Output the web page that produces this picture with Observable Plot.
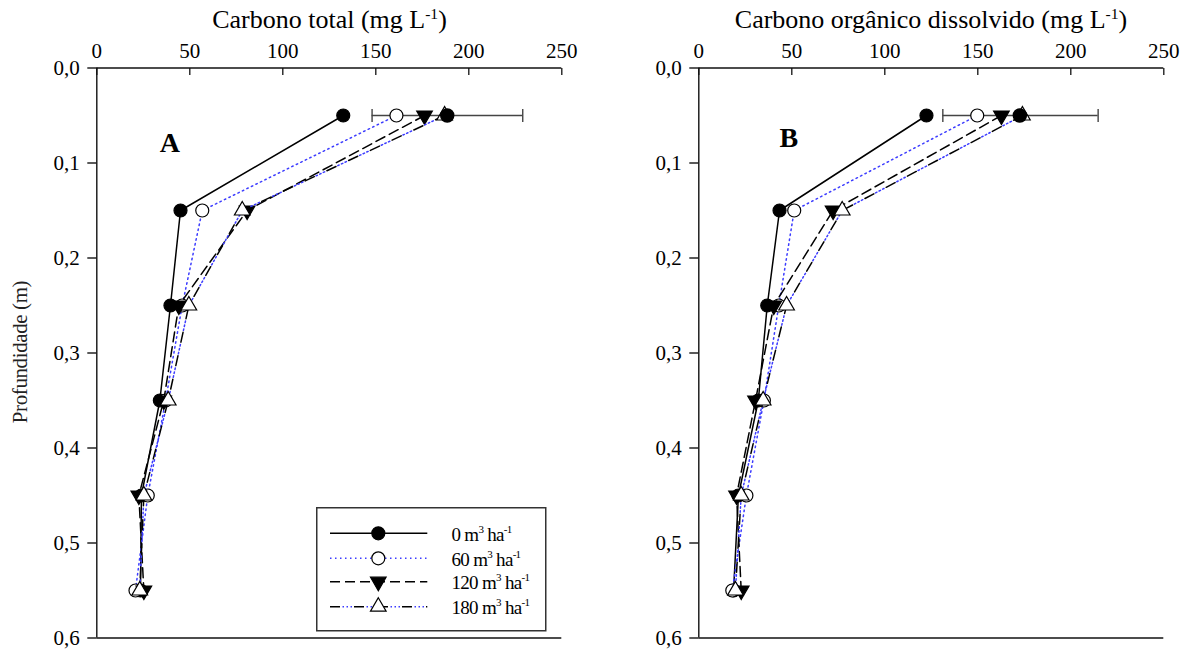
<!DOCTYPE html>
<html><head><meta charset="utf-8">
<script src="https://cdn.jsdelivr.net/npm/d3@7"></script>
<script src="https://cdn.jsdelivr.net/npm/@observablehq/plot@0.6"></script>
<style>
body{margin:0;background:#fff;}
#wrap{position:relative;width:1186px;height:651px;font-family:"Liberation Serif","Times New Roman",serif;overflow:hidden;background:#fff}
.panel{position:absolute;top:0}
.title{position:absolute;top:6.5px;transform:translateX(-50%);font-size:26px;line-height:1;white-space:nowrap;color:#000}
.ylab{position:absolute;left:20px;top:352px;transform:translate(-50%,-50%) rotate(-90deg);font-size:21px;line-height:1;white-space:nowrap;color:#222;letter-spacing:-0.4px}
sup{font-size:0.6em;vertical-align:0.6em;line-height:0}
</style></head><body><div id="wrap"></div>
<script>
// ---------- data ----------
const depths = [0.05, 0.15, 0.25, 0.35, 0.45, 0.55];
const xTicks = [0, 50, 100, 150, 200, 250];
const yTicks = [0, 0.1, 0.2, 0.3, 0.4, 0.5, 0.6];
const yTickLabels = ["0,0", "0,1", "0,2", "0,3", "0,4", "0,5", "0,6"];
const seriesDoses = ["0", "60", "120", "180"];

// Panel A: Carbono total (mg L-1)
const totalC_0   = [132.5, 45.0, 39.6, 33.9, 24.0, 23.5];
const totalC_60  = [161.1, 56.7, 45.9, 37.0, 27.4, 20.8];
const totalC_120 = [176.2, 80.8, 44.1, 36.0, 22.6, 25.3];
const totalC_180 = [187.0, 78.2, 49.5, 38.4, 25.3, 23.1];
const totalC_err = [188.4, 148.0, 229.0]; // mean, low, high at first depth

// Panel B: Carbono orgânico dissolvido (mg L-1)
const doc_0   = [122.4, 43.4, 36.8, 32.0, 21.3, 18.7];
const doc_60  = [149.7, 51.3, 43.0, 35.0, 25.6, 18.0];
const doc_120 = [162.7, 72.2, 40.3, 30.5, 20.3, 22.8];
const doc_180 = [174.0, 77.1, 47.2, 34.6, 22.8, 19.7];
const doc_err = [172.6, 131.2, 214.7];

// ---------- styles ----------
const BLUE = "#3c3cff";
const styles = [
  {symbol: "circle",   fill: "black", r: 6.5, rotate: 0,   lines: [{stroke: "black", dash: null, off: 0}]},
  {symbol: "circle",   fill: "white", r: 6.5, rotate: 0,   lines: [{stroke: BLUE, dash: "1.5,3.5", off: 0}]},
  {symbol: "triangle", fill: "black", r: 5.8, rotate: 180, lines: [{stroke: "black", dash: "10,5", off: 0}]},
  {symbol: "triangle", fill: "white", r: 5.8, rotate: 0,   lines: [{stroke: "black", dash: "10,14", off: 0}, {stroke: BLUE, dash: "1.5,2.5,1.5,2.5,1.5,14.5", off: 11.5}]}
];

const tickDown = {draw(c) { c.moveTo(0, 0); c.lineTo(0, 7); }};
const cap = {draw(c) { c.moveTo(0, -6.5); c.lineTo(0, 6.5); }};

function panel(seriesArrays, err, letter, geom) {
  const marks = [
    Plot.ruleY([0, 0.6], {stroke: "#111", strokeWidth: 1.4}),
    Plot.ruleX([0], {stroke: "#111", strokeWidth: 1.4}),
    Plot.axisY({ticks: yTicks, tickSize: 9, tickPadding: 8, strokeWidth: 1.3,
      tickFormat: d => yTickLabels[yTicks.indexOf(d)], label: null, fontSize: 21}),
    Plot.axisX({anchor: "top", ticks: xTicks, tickSize: 0, tickPadding: 10, label: null, fontSize: 21}),
    Plot.dot(xTicks, {x: d => d, frameAnchor: "top", symbol: tickDown, stroke: "#111", strokeWidth: 1.3, fill: "none"}),
    Plot.ruleY([err], {y: () => depths[0], x1: d => d[1], x2: d => d[2], stroke: "#444", strokeWidth: 1.4}),
    Plot.dot([err[1], err[2]], {x: d => d, y: () => depths[0], symbol: cap, stroke: "#444", strokeWidth: 1.4, fill: "none"})
  ];
  seriesArrays.forEach((vals, i) => {
    const st = styles[i];
    const data = depths.map((d, j) => ({depth: d, value: vals[j]}));
    st.lines.forEach(l => {
      marks.push(Plot.line(data, {x: "value", y: "depth", stroke: l.stroke, strokeWidth: 1.5,
        strokeDasharray: l.dash, strokeDashoffset: l.off}));
    });
    marks.push(Plot.dot(data, {x: "value", y: "depth", symbol: st.symbol, r: st.r, rotate: st.rotate,
      fill: st.fill, stroke: "black", strokeWidth: 1.2}));
  });
  marks.push(Plot.dot([err], {x: d => d[0], y: () => depths[0], r: 6.5, fill: "black", stroke: "black"}));
  marks.push(Plot.text([letter], {frameAnchor: "top-left", dx: geom.lx, dy: geom.ly, text: d => d,
    fontSize: 28, fontWeight: "bold", textAnchor: "middle", fill: "black"}));
  return Plot.plot({
    width: geom.width, height: 651,
    marginLeft: geom.ml, marginRight: geom.mr, marginTop: 67.5, marginBottom: 13.5,
    x: {domain: [0, 250]},
    y: {domain: [0, 0.6], reverse: true},
    style: {fontFamily: '"Liberation Serif","Times New Roman",serif', fontSize: "21px", color: "black", background: "transparent", overflow: "visible"},
    marks
  });
}

const wrap = document.getElementById("wrap");
const pA = panel([totalC_0, totalC_60, totalC_120, totalC_180], totalC_err, "A",
  {width: 593, ml: 96.3, mr: 31.7, lx: 73, ly: 64});
pA.classList.add("panel"); pA.style.left = "0px";
const pB = panel([doc_0, doc_60, doc_120, doc_180], doc_err, "B",
  {width: 593, ml: 105.3, mr: 22.7, lx: 90, ly: 59});
pB.classList.add("panel"); pB.style.left = "593px";
wrap.appendChild(pA); wrap.appendChild(pB);

// titles
function addDiv(cls, html, left) {
  const d = document.createElement("div");
  d.className = cls; d.innerHTML = html;
  if (left != null) d.style.left = left + "px";
  wrap.appendChild(d);
}
addDiv("title", "Carbono total (mg L<sup>-1</sup>)", 329.5);
addDiv("title", "Carbono orgânico dissolvido (mg L<sup>-1</sup>)", 931);
addDiv("ylab", "Profundidade (m)");

// legend
const leg = d3.select(wrap).append("svg")
  .style("position", "absolute").style("left", "316px").style("top", "507px")
  .attr("width", 232).attr("height", 127);
leg.append("rect").attr("x", 0.75).attr("y", 0.75).attr("width", 229).attr("height", 123)
  .attr("fill", "white").attr("stroke", "#333").attr("stroke-width", 1.5);
const rowY = [26.3, 51.3, 74.7, 99.7];
seriesDoses.forEach((dose, i) => {
  const st = styles[i], y = rowY[i];
  st.lines.forEach(l => {
    leg.append("line").attr("x1", 14).attr("x2", 111.3).attr("y1", y).attr("y2", y)
      .attr("stroke", l.stroke).attr("stroke-width", 1.5)
      .attr("stroke-dasharray", l.dash).attr("stroke-dashoffset", l.off);
  });
  const sym = d3.symbol(st.symbol === "circle" ? d3.symbolCircle : d3.symbolTriangle, st.r * st.r * Math.PI);
  leg.append("path").attr("d", sym()).attr("transform", `translate(62.3,${y}) rotate(${st.rotate})`)
    .attr("fill", st.fill).attr("stroke", "black").attr("stroke-width", 1.2);
  const t = leg.append("text").attr("x", 135.5).attr("y", y + 7.5)
    .attr("font-family", '"Liberation Serif","Times New Roman",serif').attr("font-size", 19)
    .attr("letter-spacing", "-0.7px").attr("fill", "black");
  t.append("tspan").text(dose + " m");
  t.append("tspan").attr("font-size", 11).attr("dy", -8).text("3");
  t.append("tspan").attr("dy", 8).text(" ha");
  t.append("tspan").attr("font-size", 11).attr("dy", -8).text("-1");
});
</script></body></html>
